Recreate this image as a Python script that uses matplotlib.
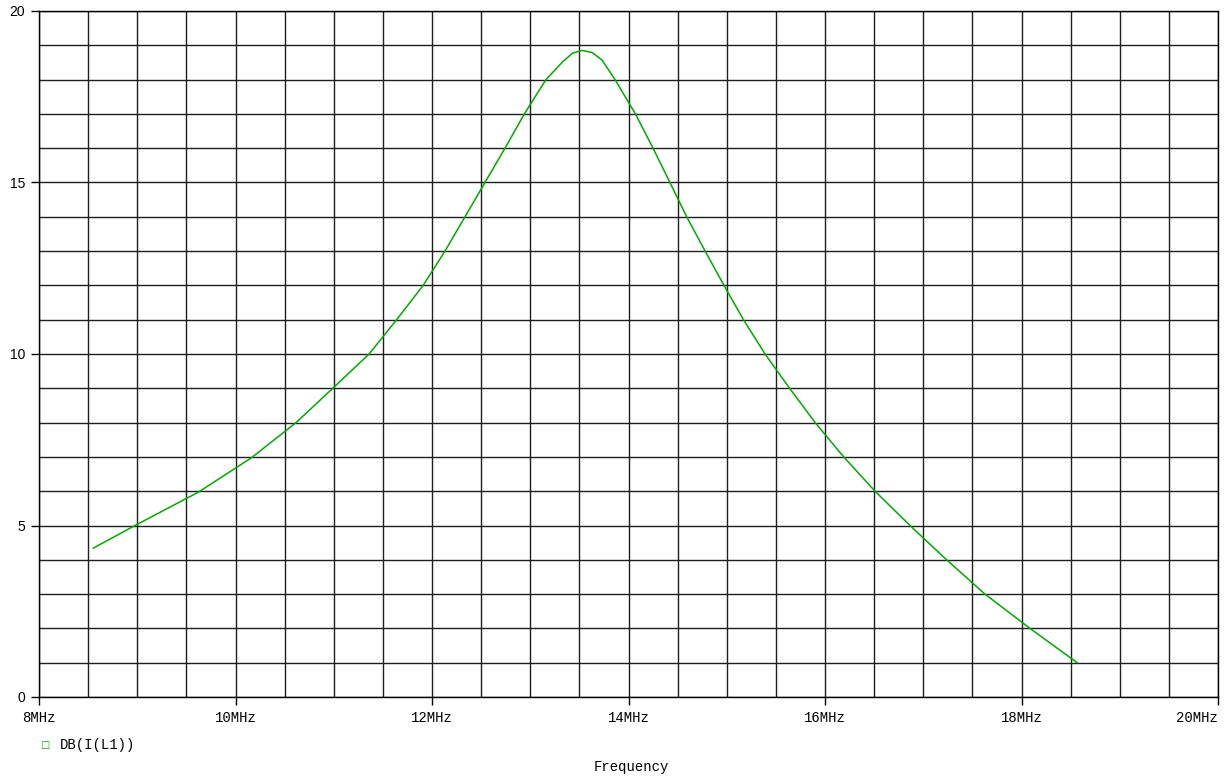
import matplotlib
matplotlib.use("Agg")
import matplotlib.pyplot as plt
from matplotlib.ticker import MultipleLocator, FixedLocator

# values (frequency in MHz, dB),
# mostly where the trace crosses the 1 dB grid lines
freq_mhz = [8.553, 8.977, 9.621, 10.165, 10.616, 10.99, 11.36, 11.64, 11.91,
            12.132, 12.336, 12.539, 12.743, 12.94, 13.16, 13.33, 13.43,
            13.527, 13.63, 13.73, 13.863, 14.07, 14.25, 14.422, 14.592,
            14.78, 14.972, 15.17, 15.39, 15.64, 15.90, 16.19, 16.509,
            16.865, 17.238, 17.628, 18.086, 18.567]
db_il1 = [4.34, 5.0, 5.97, 6.98, 8.0, 9.0, 10.0, 11.0, 12.0,
          13.0, 14.0, 15.0, 16.0, 17.0, 18.0, 18.52, 18.77,
          18.85, 18.79, 18.57, 18.0, 17.0, 16.0, 15.0, 14.0,
          13.0, 12.0, 11.0, 10.0, 9.0, 8.0, 7.0, 6.0,
          5.0, 4.0, 3.0, 2.0, 1.0]

x_ticks = [8, 10, 12, 14, 16, 18, 20]
x_labels = ["8MHz", "10MHz", "12MHz", "14MHz", "16MHz", "18MHz", "20MHz"]
y_ticks = [0, 5, 10, 15, 20]
trace_name = "DB(I(L1))"

mono = "Liberation Mono"
sans = "Liberation Sans"
green = "#00aa00"
gridc = "#1e1e1e"

fig = plt.figure(figsize=(12.28, 7.78), dpi=100)
ax = fig.add_axes([39 / 1228, 1 - 697 / 778, (1218 - 39) / 1228, (697 - 11) / 778])

ax.set_xlim(8, 20)
ax.set_ylim(0, 20)

# grid every 0.5 MHz and every 1 dB
ax.xaxis.set_minor_locator(MultipleLocator(0.5))
ax.yaxis.set_minor_locator(MultipleLocator(1))
ax.grid(True, which="both", color=gridc, linewidth=1.0, linestyle="-")
ax.set_axisbelow(True)

ax.plot(freq_mhz, db_il1, color=green, linewidth=1.1, zorder=3)

ax.xaxis.set_major_locator(FixedLocator(x_ticks))
ax.set_xticklabels(x_labels, fontfamily=mono, fontsize=10)
# last label sits flush with the right edge, like the original
ax.get_xticklabels()[-1].set_horizontalalignment("right")
ax.yaxis.set_major_locator(FixedLocator(y_ticks))
ax.set_yticklabels([str(v) for v in y_ticks], fontfamily=sans, fontsize=10)
ax.tick_params(which="major", direction="out", length=6, width=1.0, color="black", pad=4)
ax.tick_params(which="minor", length=0)

for s in ax.spines.values():
    s.set_color("black")
    s.set_linewidth(1.0)

# legend entry below the axis
fig.text(45 / 1228, 1 - 745 / 778, "\u25a1", color=green, fontsize=7,
         ha="center", va="center", fontfamily="DejaVu Sans", fontweight="bold")
fig.text(60 / 1228, 1 - 745 / 778, trace_name, fontfamily=mono, fontsize=10,
         ha="left", va="center")
fig.text(631 / 1228, 1 - 767 / 778, "Frequency", fontfamily=mono, fontsize=10,
         ha="center", va="center")

fig.savefig("out.png", dpi=100)
